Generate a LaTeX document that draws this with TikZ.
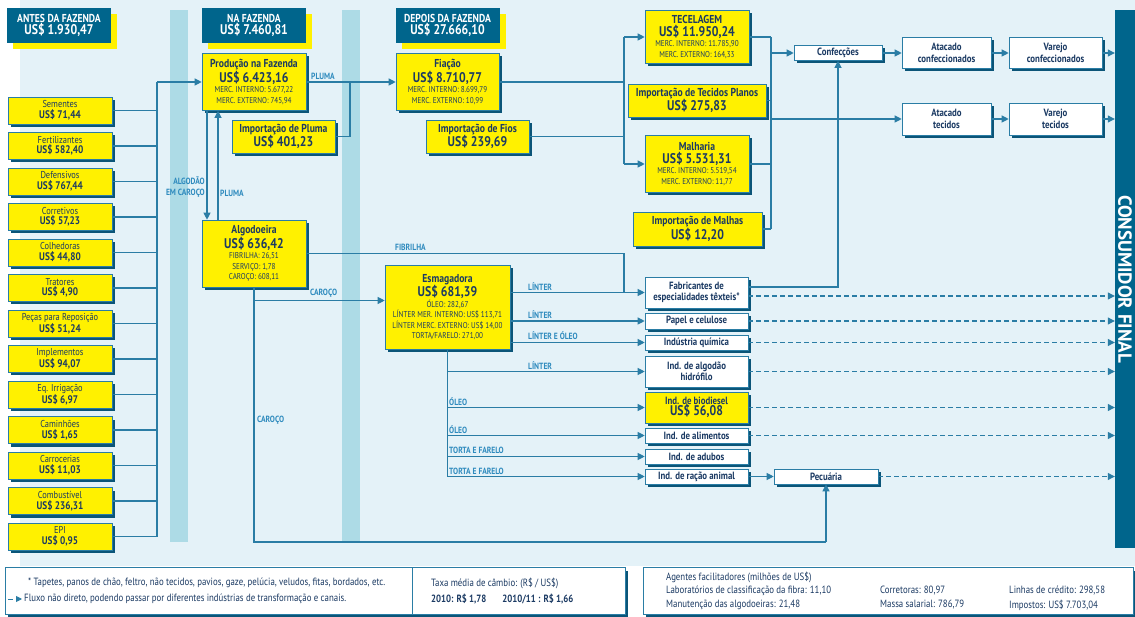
\documentclass[tikz,border=0pt]{standalone}
\usepackage{fontspec}
\setmainfont[FakeStretch=0.84]{PT Sans}
\newfontfamily\wideFont{PT Sans}
\usetikzlibrary{arrows.meta,shadows}

\definecolor{bgBlue}{HTML}{E4F2F8}
\definecolor{stripeBlue}{HTML}{ADDBE6}
\definecolor{darkBlue}{HTML}{00658C}
\definecolor{shadowBlue}{HTML}{0B5578}
\definecolor{lineBlue}{HTML}{2A7DA5}
\definecolor{labelBlue}{HTML}{2F8BBE}
\definecolor{boxYellow}{HTML}{FFF100}
\definecolor{textNavy}{HTML}{1B3A63}

\newcommand{\stageName}[1]{{\fontsize{11.5}{12}\selectfont\bfseries #1}}
\newcommand{\stageValue}[1]{{\fontsize{14}{15}\selectfont\bfseries #1}}
\newcommand{\headName}[1]{{\fontsize{11.5}{12}\selectfont #1}}
\newcommand{\headValue}[1]{{\fontsize{14}{15}\selectfont #1}}
\newcommand{\inputValue}[1]{{\fontsize{11}{12}\selectfont\bfseries #1}}

\begin{document}
\begin{tikzpicture}[x=1pt,y=-1pt,
  every node/.style={align=center,text=textNavy,inner sep=1pt},
  yellowbox/.style={draw=lineBlue,fill=boxYellow,line width=0.6pt,
    font=\fontsize{8.5}{10.5}\selectfont,
    drop shadow={shadow xshift=3pt,shadow yshift=-3pt,fill=shadowBlue,opacity=1}},
  whitebox/.style={yellowbox,fill=white,font=\fontsize{10.5}{11.5}\selectfont\bfseries},
  headbox/.style={fill=darkBlue,text=white,font=\bfseries,minimum width=104,minimum height=35,
    drop shadow={shadow xshift=6pt,shadow yshift=-6pt,fill=boxYellow,opacity=1}},
  inputbox/.style={yellowbox,minimum width=104,minimum height=27,font=\fontsize{10}{10.5}\selectfont},
  flowlabel/.style={text=labelBlue,font=\fontsize{9}{9}\selectfont\bfseries},
  link/.style={draw=lineBlue,line width=1.1pt},
  flow/.style={link,-{Triangle[length=7pt,width=7pt]}},
  indirect/.style={flow,dash pattern=on 5pt off 3pt},
  legendbox/.style={draw=lineBlue,fill=white,line width=0.6pt,
    drop shadow={shadow xshift=3pt,shadow yshift=-3pt,fill=shadowBlue,opacity=1}},
  legendtext/.style={anchor=west,font=\fontsize{10.5}{11}\selectfont}]

\useasboundingbox (0,0) rectangle (1135,617);

% background and the two stage stripes
\fill[bgBlue] (20,0) rectangle (1135,566);
\fill[stripeBlue] (170,10) rectangle (188,542);
\fill[stripeBlue] (342,10) rectangle (360,542);

% stage headers
\node[headbox] (antes) at (59,25.5) {\headName{ANTES DA FAZENDA}\\\headValue{US\$ 1.930,47}};
\node[headbox] (naFazenda) at (254,25.5) {\headName{NA FAZENDA}\\\headValue{US\$ 7.460,81}};
\node[headbox] (depois) at (447.5,25.5) {\headName{DEPOIS DA FAZENDA}\\\headValue{US\$ 27.666,10}};

% inputs before the farm
\node[inputbox] (sementes) at (60,110.5) {Sementes\\\inputValue{US\$ 71,44}};
\node[inputbox] (fertilizantes) at (60,146) {Fertilizantes\\\inputValue{US\$ 582,40}};
\node[inputbox] (defensivos) at (60,181.5) {Defensivos\\\inputValue{US\$ 767,44}};
\node[inputbox] (corretivos) at (60,217) {Corretivos\\\inputValue{US\$ 57,23}};
\node[inputbox] (colhedoras) at (60,252.5) {Colhedoras\\\inputValue{US\$ 44,80}};
\node[inputbox] (tratores) at (60,288) {Tratores\\\inputValue{US\$ 4,90}};
\node[inputbox] (pecas) at (60,323.5) {Peças para Reposição\\\inputValue{US\$ 51,24}};
\node[inputbox] (implementos) at (60,359) {Implementos\\\inputValue{US\$ 94,07}};
\node[inputbox] (irrigacao) at (60,394.5) {Eq. Irrigação\\\inputValue{US\$ 6,97}};
\node[inputbox] (caminhoes) at (60,430) {Caminhões\\\inputValue{US\$ 1,65}};
\node[inputbox] (carrocerias) at (60,465.5) {Carrocerias\\\inputValue{US\$ 11,03}};
\node[inputbox] (combustivel) at (60,501) {Combustível\\\inputValue{US\$ 236,31}};
\node[inputbox] (epi) at (60,536.5) {EPI\\\inputValue{US\$ 0,95}};

% farm
\node[yellowbox,minimum width=104,minimum height=57] (producao) at (254,82)
  {\stageName{Produção na Fazenda}\\\stageValue{US\$ 6.423,16}\\MERC. INTERNO: 5.677,22\\MERC. EXTERNO: 745,94};
\node[yellowbox,minimum width=103,minimum height=33] (impPluma) at (283.5,136.5)
  {\stageName{Importação de Pluma}\\\stageValue{US\$ 401,23}};
\node[yellowbox,minimum width=104,minimum height=67] (algodoeira) at (254,253.5)
  {\stageName{Algodoeira}\\\stageValue{US\$ 636,42}\\FIBRILHA: 26,51\\SERVIÇO: 1,78\\CAROÇO: 608,11};

% after the farm
\node[yellowbox,minimum width=103,minimum height=57] (fiacao) at (447.5,82)
  {\stageName{Fiação}\\\stageValue{US\$ 8.710,77}\\MERC. INTERNO: 8.699,79\\MERC. EXTERNO: 10,99};
\node[yellowbox,minimum width=103,minimum height=33] (impFios) at (477.5,136.5)
  {\stageName{Importação de Fios}\\\stageValue{US\$ 239,69}};
\node[yellowbox,minimum width=125,minimum height=84] (esmagadora) at (447.5,307)
  {\stageName{Esmagadora}\\\stageValue{US\$ 681,39}\\ÓLEO: 282,67\\LÍNTER MER. INTERNO: US\$ 113,71\\LÍNTER MERC. EXTERNO: US\$ 14,00\\TORTA/FARELO: 271,00};
\node[yellowbox,minimum width=104,minimum height=53] (tecelagem) at (697,37)
  {\stageName{TECELAGEM}\\\stageValue{US\$ 11.950,24}\\MERC. INTERNO: 11.785,90\\MERC. EXTERNO: 164,33};
\node[yellowbox,minimum width=138,minimum height=33] (impTecPlanos) at (697,100.5)
  {\stageName{Importação de Tecidos Planos}\\\stageValue{US\$ 275,83}};
\node[yellowbox,minimum width=104,minimum height=57] (malharia) at (697,164)
  {\stageName{Malharia}\\\stageValue{US\$ 5.531,31}\\MERC. INTERNO: 5.519,54\\MERC. EXTERNO: 11,77};
\node[yellowbox,minimum width=129,minimum height=34] (impMalhas) at (697.5,229)
  {\stageName{Importação de Malhas}\\\stageValue{US\$ 12,20}};

% clothing and fabric trade
\node[whitebox,minimum width=88,minimum height=15] (confeccoes) at (838,53) {Confecções};
\node[whitebox,minimum width=89,minimum height=31] (atacadoConf) at (946.5,53) {Atacado\\confeccionados};
\node[whitebox,minimum width=93,minimum height=31] (varejoConf) at (1055.5,53) {Varejo\\confeccionados};
\node[whitebox,minimum width=89,minimum height=32] (atacadoTecidos) at (946.5,119) {Atacado\\tecidos};
\node[whitebox,minimum width=93,minimum height=32] (varejoTecidos) at (1055.5,119) {Varejo\\tecidos};

% industries fed by the gin and the crusher
\node[whitebox,minimum width=103,minimum height=31] (fabricantes) at (696.5,292.5) {Fabricantes de\\especialidades têxteis*};
\node[whitebox,minimum width=103,minimum height=16] (papel) at (696.5,321) {Papel e celulose};
\node[whitebox,minimum width=103,minimum height=15] (quimica) at (696.5,342.5) {Indústria química};
\node[whitebox,minimum width=103,minimum height=31] (hidrofilo) at (696.5,371.5) {Ind. de algodão\\hidrófilo};
\node[whitebox,fill=boxYellow,minimum width=103,minimum height=31] (biodiesel) at (696.5,407.5)
  {Ind. de biodiesel\\{\fontsize{14}{14}\selectfont US\$ 56,08}};
\node[whitebox,minimum width=103,minimum height=15] (alimentos) at (696.5,435.5) {Ind. de alimentos};
\node[whitebox,minimum width=103,minimum height=15] (adubos) at (696.5,456.5) {Ind. de adubos};
\node[whitebox,minimum width=103,minimum height=15] (racao) at (696.5,476.5) {Ind. de ração animal};
\node[whitebox,minimum width=104,minimum height=15] (pecuaria) at (826,476.5) {Pecuária};

% final consumer bar
\node[fill=darkBlue,text=white,minimum width=20,minimum height=538,inner sep=0pt,
  font=\wideFont\fontsize{19}{19}\selectfont\bfseries] (consumidor) at (1125,279) {\rotatebox{-90}{CONSUMIDOR FINAL}};

% inputs into the farm
\coordinate (busTop) at (157,82);
\coordinate (busBottom) at (157,536.5);
\draw[link] (busTop) -- (busBottom);
\draw[link] (sementes.east) -- (sementes.east -| busTop);
\draw[link] (fertilizantes.east) -- (fertilizantes.east -| busTop);
\draw[link] (defensivos.east) -- (defensivos.east -| busTop);
\draw[link] (corretivos.east) -- (corretivos.east -| busTop);
\draw[link] (colhedoras.east) -- (colhedoras.east -| busTop);
\draw[link] (tratores.east) -- (tratores.east -| busTop);
\draw[link] (pecas.east) -- (pecas.east -| busTop);
\draw[link] (implementos.east) -- (implementos.east -| busTop);
\draw[link] (irrigacao.east) -- (irrigacao.east -| busTop);
\draw[link] (caminhoes.east) -- (caminhoes.east -| busTop);
\draw[link] (carrocerias.east) -- (carrocerias.east -| busTop);
\draw[link] (combustivel.east) -- (combustivel.east -| busTop);
\draw[link] (epi.east) -- (epi.east -| busTop);
\draw[flow] (busTop) -- (producao.west);

% farm and gin
\draw[flow] ([xshift=-47pt]producao.south) -- ([xshift=-47pt]algodoeira.north);
\draw[flow] ([xshift=-36pt]algodoeira.north) -- ([xshift=-36pt]producao.south);
\node[flowlabel,anchor=east,align=right,font=\fontsize{9}{11.5}\selectfont\bfseries] (lblAlgodao) at (206,187) {ALGODÃO\\EM CAROÇO};
\node[flowlabel,anchor=west] (lblPlumaUp) at (219,193) {PLUMA};

% lint to spinning
\coordinate (plumaJoin) at (350,82);
\draw[flow] (producao.east) -- (fiacao.west);
\draw[link] (impPluma.east) -| (plumaJoin);
\node[flowlabel,anchor=south west] (lblPluma) at (310,81) {PLUMA};

% by-products of the gin
\coordinate (fibrilhaJoin) at (624,293);
\draw[link] (algodoeira.east) -| (fibrilhaJoin);
\node[flowlabel,anchor=south west] (lblFibrilha) at (394,252) {FIBRILHA};
\coordinate (carocoSplit) at (254,300.5);
\coordinate (carocoCorner) at (254,542);
\coordinate (pecuariaFeed) at (826,542);
\draw[link] (algodoeira.south) -- (carocoCorner) -- (pecuariaFeed);
\draw[flow] (pecuariaFeed) -- (pecuaria.south);
\draw[flow] (carocoSplit) -- (carocoSplit -| esmagadora.west);
\node[flowlabel,anchor=south west] (lblCaroco) at (309,299) {CAROÇO};
\node[flowlabel,anchor=west] (lblCarocoDown) at (256,420) {CAROÇO};

% crusher outputs
\draw[flow] (esmagadora.east |- fabricantes.west) -- (fabricantes.west);
\draw[flow] (esmagadora.east |- papel.west) -- (papel.west);
\draw[flow] (esmagadora.east |- quimica.west) -- (quimica.west);
\node[flowlabel,anchor=south west] (lblLinterA) at (527,292) {LÍNTER};
\node[flowlabel,anchor=south west] (lblLinterB) at (527,320) {LÍNTER};
\node[flowlabel,anchor=south west] (lblLinterOleo) at (527,341) {LÍNTER E ÓLEO};
\coordinate (esmaBus) at (447.5,476.5);
\draw[link] (esmagadora.south) -- (esmaBus);
\draw[flow] (esmaBus |- hidrofilo.west) -- (hidrofilo.west);
\draw[flow] (esmaBus |- biodiesel.west) -- (biodiesel.west);
\draw[flow] (esmaBus |- alimentos.west) -- (alimentos.west);
\draw[flow] (esmaBus |- adubos.west) -- (adubos.west);
\draw[flow] (esmaBus) -- (racao.west);
\node[flowlabel,anchor=south west] (lblLinterC) at (527,371) {LÍNTER};
\node[flowlabel,anchor=south west] (lblOleoA) at (448,407) {ÓLEO};
\node[flowlabel,anchor=south west] (lblOleoB) at (448,435) {ÓLEO};
\node[flowlabel,anchor=south west] (lblTortaA) at (448,455) {TORTA E FARELO};
\node[flowlabel,anchor=south west] (lblTortaB) at (448,476) {TORTA E FARELO};
\draw[flow] (racao) -- (pecuaria);

% yarn to weaving and knitting
\coordinate (fiosJoinTop) at (624,37);
\coordinate (fiosJoinBottom) at (624,164);
\draw[link] (fiacao.east) -- (fiacao.east -| fiosJoinTop);
\draw[link] (impFios.east) -- (impFios.east -| fiosJoinTop);
\draw[link] (fiosJoinTop) -- (fiosJoinBottom);
\draw[flow] (fiosJoinTop) -- (tecelagem.west);
\draw[flow] (fiosJoinBottom) -- (malharia.west);

% fabrics to clothing and trade
\coordinate (tecidosTop) at (771,37);
\coordinate (tecidosBottom) at (771,229);
\draw[link] (tecelagem.east) -- (tecidosTop);
\draw[link] (impTecPlanos.east) -- (impTecPlanos.east -| tecidosTop);
\draw[link] (malharia.east) -- (malharia.east -| tecidosTop);
\draw[link] (impMalhas.east) -- (impMalhas.east -| tecidosTop);
\draw[link] (tecidosTop) -- (tecidosBottom);
\draw[flow] (tecidosTop |- confeccoes.west) -- (confeccoes.west);
\draw[flow] (tecidosTop |- atacadoTecidos.west) -- (atacadoTecidos.west);
\draw[flow] ([yshift=5.5pt]fabricantes.east) -| (confeccoes.south);
\draw[flow] (confeccoes) -- (atacadoConf);
\draw[flow] (atacadoConf) -- (varejoConf);
\draw[flow] (atacadoTecidos) -- (varejoTecidos);
\draw[flow] (varejoConf.east) -- (varejoConf.east -| consumidor.west);
\draw[flow] (varejoTecidos.east) -- (varejoTecidos.east -| consumidor.west);

% indirect flows to the consumer
\draw[indirect] ([yshift=-3.5pt]fabricantes.east) -- ([yshift=-3.5pt]fabricantes.east -| consumidor.west);
\draw[indirect] (papel.east) -- (papel.east -| consumidor.west);
\draw[indirect] (quimica.east) -- (quimica.east -| consumidor.west);
\draw[indirect] (hidrofilo.east) -- (hidrofilo.east -| consumidor.west);
\draw[indirect] (biodiesel.east) -- (biodiesel.east -| consumidor.west);
\draw[indirect] (alimentos.east) -- (alimentos.east -| consumidor.west);
\draw[indirect] (pecuaria.east) -- (pecuaria.east -| consumidor.west);

% legend
\node[legendbox,minimum width=620,minimum height=47] (legendLeft) at (315,591) {};
\draw[draw=lineBlue,line width=0.6pt] ([xshift=408pt]legendLeft.north west) -- ([xshift=408pt]legendLeft.south west);
\node[legendtext] (noteTapetes) at (27,583) {* Tapetes, panos de chão, feltro, não tecidos, pavios, gaze, pelúcia, veludos, fitas, bordados, etc.};
\coordinate (legendDashA) at (8,599);
\coordinate (legendDashB) at (22,599);
\draw[indirect,line width=0.9pt,-{Triangle[length=6pt,width=6pt]}] (legendDashA) -- (legendDashB);
\node[legendtext] (noteFluxo) at (23,599) {Fluxo não direto, podendo passar por diferentes indústrias de transformação e canais.};
\node[legendtext] (cambioTitle) at (430,583) {Taxa média de câmbio: (R\$ / US\$)};
\node[legendtext,font=\fontsize{10.5}{11}\selectfont\bfseries] (cambioValues) at (430,599) {2010: R\$ 1,78\hspace{16pt}2010/11 : R\$ 1,66};
\node[legendbox,minimum width=490,minimum height=47] (legendRight) at (888,591) {};
\node[legendtext] (agentesTitle) at (665,577) {Agentes facilitadores (milhões de US\$)};
\node[legendtext] (agentesLab) at (665,591) {Laboratórios de classificação da fibra: 11,10};
\node[legendtext] (agentesManut) at (665,605) {Manutenção das algodoeiras: 21,48};
\node[legendtext] (agentesCorr) at (879,591) {Corretoras: 80,97};
\node[legendtext] (agentesMassa) at (879,605) {Massa salarial: 786,79};
\node[legendtext] (agentesLinhas) at (1008,591) {Linhas de crédito: 298,58};
\node[legendtext] (agentesImpostos) at (1008,605) {Impostos: US\$ 7.703,04};

\end{tikzpicture}
\end{document}
